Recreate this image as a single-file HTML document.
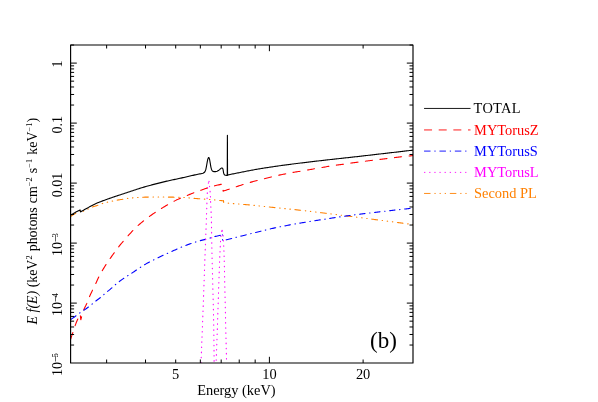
<!DOCTYPE html>
<html><head><meta charset="utf-8"><title>Spectrum (b)</title>
<style>
html,body{margin:0;padding:0;background:#fff;}
svg{display:block;will-change:transform;}
text{font-family:"Liberation Serif",serif;font-size:14.4px;fill:#000;}
</style></head><body>
<svg width="598" height="402" viewBox="0 0 598 402">
<rect width="598" height="402" fill="#fff"/>
<defs><clipPath id="c"><rect x="70.6" y="45.0" width="342.40" height="318.00"/></clipPath></defs>
<g clip-path="url(#c)" fill="none" stroke-linejoin="round" stroke-linecap="round">
<path d="M70.70 216.30L71.74 215.66L72.78 215.03L73.82 214.40L74.86 213.79L75.89 213.18L76.93 212.57L77.97 211.97L79.01 211.38L80.05 210.80L80.55 212.60L81.56 212.10L82.56 211.61L83.57 211.13L84.58 210.65L85.58 210.18L86.59 209.71L87.60 209.24L88.60 208.76L89.61 208.25L90.62 207.75L91.62 207.30L92.63 206.90L93.64 206.55L94.64 206.24L95.65 205.93L96.66 205.62L97.66 205.28L98.67 204.90L99.68 204.50L100.68 204.10L101.69 203.73L102.70 203.42L103.70 203.14L104.71 202.88L105.72 202.64L106.72 202.39L107.73 202.14L108.74 201.90L109.74 201.66L110.75 201.42L111.76 201.20L112.76 200.98L113.77 200.77L114.78 200.56L115.78 200.36L116.79 200.18L117.80 200.02L118.80 199.87L119.81 199.72L120.82 199.58L121.82 199.43L122.83 199.28L123.84 199.12L124.84 198.94L125.85 198.76L126.86 198.58L127.86 198.41L128.87 198.26L129.88 198.12L130.88 198.01L131.89 197.92L132.90 197.83L133.90 197.75L134.91 197.67L135.92 197.60L136.92 197.53L137.93 197.46L138.94 197.40L139.94 197.34L140.95 197.29L141.96 197.25L142.96 197.21L143.97 197.18L144.98 197.15L145.98 197.13L146.99 197.10L148.00 197.08L149.00 197.06L150.01 197.05L151.02 197.03L152.02 197.02L153.03 197.01L154.04 197.00L155.05 197.00L156.05 197.00L157.06 197.00L158.07 197.01L159.07 197.01L160.08 197.01L161.09 197.02L162.09 197.03L163.10 197.03L164.11 197.04L165.11 197.05L166.12 197.06L167.13 197.07L168.13 197.08L169.14 197.09L170.15 197.10L171.15 197.12L172.16 197.13L173.17 197.15L174.17 197.18L175.18 197.20L176.19 197.23L177.19 197.27L178.20 197.30L179.21 197.34L180.21 197.38L181.22 197.42L182.23 197.47L183.23 197.51L184.24 197.56L185.25 197.61L186.25 197.67L187.26 197.75L188.27 197.83L189.27 197.92L190.28 198.01L191.29 198.10L192.29 198.20L193.30 198.28L194.31 198.37L195.31 198.45L196.32 198.54L197.33 198.63L198.33 198.71L199.34 198.79L200.35 198.86L201.35 198.93L202.36 199.00L203.37 199.06L204.37 199.12L205.38 199.18L206.39 199.24L207.39 199.30L208.40 199.36L209.41 199.43L210.41 199.51L211.42 199.61L212.43 199.70L213.43 199.80L214.44 199.90L215.45 200.01L216.45 200.11L217.46 200.22L218.47 200.33L219.47 200.44L220.48 200.55L221.49 200.67L222.49 200.78L223.50 200.90" stroke="#ff8000" stroke-width="1.1" stroke-dasharray="5.67 4.63 0.50 4.63 0.50 4.63 0.50 4.63" stroke-dashoffset="25.44"/>
<path d="M223.50 200.90L223.70 202.60L224.70 202.73L225.71 202.85L226.71 202.97L227.71 203.08L228.72 203.19L229.72 203.29L230.73 203.38L231.73 203.48L232.73 203.57L233.74 203.65L234.74 203.73L235.74 203.81L236.75 203.89L237.75 203.96L238.76 204.04L239.76 204.12L240.76 204.20L241.77 204.28L242.77 204.37L243.77 204.45L244.78 204.53L245.78 204.61L246.79 204.69L247.79 204.78L248.79 204.86L249.80 204.96L250.80 205.05L251.80 205.15L252.81 205.25L253.81 205.35L254.81 205.46L255.82 205.57L256.82 205.68L257.83 205.79L258.83 205.90L259.83 206.01L260.84 206.12L261.84 206.23L262.84 206.34L263.85 206.45L264.85 206.55L265.86 206.66L266.86 206.76L267.86 206.87L268.87 206.97L269.87 207.07L270.87 207.18L271.88 207.28L272.88 207.38L273.89 207.48L274.89 207.58L275.89 207.69L276.90 207.79L277.90 207.89L278.90 207.99L279.91 208.09L280.91 208.19L281.91 208.29L282.92 208.40L283.92 208.50L284.93 208.60L285.93 208.70L286.93 208.81L287.94 208.91L288.94 209.01L289.94 209.12L290.95 209.22L291.95 209.33L292.96 209.43L293.96 209.54L294.96 209.65L295.97 209.76L296.97 209.87L297.97 209.98L298.98 210.09L299.98 210.20L300.99 210.31L301.99 210.42L302.99 210.54L304.00 210.65L305.00 210.77L306.00 210.88L307.01 211.00L308.01 211.12L309.01 211.24L310.02 211.35L311.02 211.47L312.03 211.59L313.03 211.71L314.03 211.83L315.04 211.95L316.04 212.08L317.04 212.20L318.05 212.32L319.05 212.44L320.06 212.57L321.06 212.69L322.06 212.81L323.07 212.94L324.07 213.06L325.07 213.19L326.08 213.31L327.08 213.44L328.09 213.56L329.09 213.69L330.09 213.81L331.10 213.94L332.10 214.07L333.10 214.19L334.11 214.32L335.11 214.45L336.11 214.57L337.12 214.70L338.12 214.83L339.13 214.95L340.13 215.08L341.13 215.21L342.14 215.34L343.14 215.46L344.14 215.59L345.15 215.72L346.15 215.84L347.16 215.97L348.16 216.09L349.16 216.22L350.17 216.35L351.17 216.48L352.17 216.60L353.18 216.73L354.18 216.86L355.19 216.99L356.19 217.11L357.19 217.24L358.20 217.37L359.20 217.50L360.20 217.63L361.21 217.76L362.21 217.89L363.21 218.02L364.22 218.15L365.22 218.28L366.23 218.41L367.23 218.54L368.23 218.67L369.24 218.80L370.24 218.93L371.24 219.06L372.25 219.19L373.25 219.32L374.26 219.45L375.26 219.58L376.26 219.71L377.27 219.84L378.27 219.97L379.27 220.11L380.28 220.24L381.28 220.37L382.29 220.50L383.29 220.63L384.29 220.76L385.30 220.89L386.30 221.02L387.30 221.15L388.31 221.29L389.31 221.42L390.31 221.55L391.32 221.68L392.32 221.81L393.33 221.94L394.33 222.08L395.33 222.21L396.34 222.34L397.34 222.47L398.34 222.60L399.35 222.74L400.35 222.87L401.36 223.00L402.36 223.13L403.36 223.27L404.37 223.40L405.37 223.53L406.37 223.67L407.38 223.80L408.38 223.93L409.39 224.07L410.39 224.20L411.39 224.33L412.40 224.47L413.40 224.60" stroke="#ff8000" stroke-width="1.1" stroke-dasharray="5.71 4.65 0.50 4.65 0.50 4.65 0.50 4.65" stroke-dashoffset="4.11"/>
<path d="M70.70 215.10L71.74 214.48L72.78 213.87L73.82 213.27L74.86 212.68L75.89 212.10L76.93 211.54L77.97 210.98L79.01 210.43L80.05 209.90L80.55 211.90L81.55 211.32L82.56 210.74L83.56 210.17L84.56 209.60L85.57 209.04L86.57 208.48L87.58 207.93L88.58 207.38L89.58 206.83L90.59 206.27L91.59 205.72L92.59 205.18L93.60 204.67L94.60 204.18L95.61 203.72L96.61 203.29L97.61 202.86L98.62 202.44L99.62 202.04L100.62 201.65L101.63 201.26L102.63 200.88L103.63 200.51L104.64 200.15L105.64 199.79L106.65 199.43L107.65 199.08L108.65 198.73L109.66 198.38L110.66 198.03L111.66 197.69L112.67 197.34L113.67 196.99L114.68 196.64L115.68 196.30L116.68 195.96L117.69 195.63L118.69 195.30L119.69 194.97L120.70 194.65L121.70 194.32L122.70 194.00L123.71 193.67L124.71 193.34L125.72 193.02L126.72 192.68L127.72 192.35L128.73 192.02L129.73 191.68L130.73 191.35L131.74 191.01L132.74 190.67L133.75 190.34L134.75 190.01L135.75 189.68L136.76 189.35L137.76 189.02L138.76 188.70L139.77 188.38L140.77 188.06L141.77 187.75L142.78 187.44L143.78 187.14L144.79 186.85L145.79 186.56L146.79 186.28L147.80 185.99L148.80 185.72L149.80 185.44L150.81 185.17L151.81 184.90L152.82 184.64L153.82 184.37L154.82 184.11L155.83 183.86L156.83 183.60L157.83 183.35L158.84 183.10L159.84 182.85L160.85 182.60L161.85 182.36L162.85 182.11L163.86 181.87L164.86 181.63L165.86 181.40L166.87 181.16L167.87 180.93L168.87 180.71L169.88 180.48L170.88 180.26L171.89 180.04L172.89 179.82L173.89 179.61L174.90 179.39L175.90 179.18L176.90 178.96L177.91 178.75L178.91 178.53L179.92 178.32L180.92 178.10L181.92 177.88L182.93 177.66L183.93 177.44L184.93 177.21L185.94 176.99L186.94 176.75L187.94 176.52L188.95 176.28L189.95 176.05L190.96 175.81L191.96 175.58L192.96 175.35L193.97 175.12L194.97 174.91L195.97 174.69L196.98 174.48L197.98 174.28L198.99 174.08L199.99 173.88L200.99 173.68L202.00 173.49L203.00 173.30L204.20 172.60L205.00 171.60L205.80 169.60L206.50 166.10L207.20 162.20L207.80 159.20L208.30 157.90L208.70 157.50L209.10 157.90L209.60 159.50L210.20 162.80L210.90 167.10L211.50 169.40L212.10 170.60L212.80 171.30L213.60 171.60L215.50 171.60L217.10 171.30L218.40 170.60L219.60 169.60L220.60 168.60L221.60 168.00L222.30 168.00L222.90 168.80L223.20 170.40L223.60 172.80L224.00 174.20L224.60 174.90L225.60 175.30L226.60 175.40L227.25 175.40L227.40 135.20L227.55 175.20L228.10 174.90L229.10 174.69L230.10 174.49L231.10 174.29L232.11 174.08L233.11 173.88L234.11 173.68L235.11 173.47L236.11 173.27L237.11 173.07L238.12 172.87L239.12 172.67L240.12 172.48L241.12 172.28L242.12 172.08L243.12 171.88L244.13 171.68L245.13 171.48L246.13 171.28L247.13 171.08L248.13 170.88L249.13 170.69L250.14 170.49L251.14 170.30L252.14 170.12L253.14 169.93L254.14 169.75L255.14 169.57L256.15 169.40L257.15 169.23L258.15 169.06L259.15 168.89L260.15 168.72L261.15 168.56L262.16 168.40L263.16 168.23L264.16 168.07L265.16 167.91L266.16 167.76L267.16 167.60L268.16 167.44L269.17 167.29L270.17 167.14L271.17 166.99L272.17 166.84L273.17 166.69L274.17 166.54L275.18 166.39L276.18 166.25L277.18 166.10L278.18 165.96L279.18 165.82L280.18 165.67L281.19 165.53L282.19 165.39L283.19 165.26L284.19 165.12L285.19 164.99L286.19 164.85L287.20 164.72L288.20 164.59L289.20 164.46L290.20 164.33L291.20 164.20L292.20 164.07L293.21 163.95L294.21 163.82L295.21 163.69L296.21 163.57L297.21 163.45L298.21 163.32L299.22 163.20L300.22 163.07L301.22 162.95L302.22 162.83L303.22 162.71L304.22 162.58L305.22 162.46L306.23 162.34L307.23 162.22L308.23 162.11L309.23 161.99L310.23 161.87L311.23 161.75L312.24 161.63L313.24 161.52L314.24 161.40L315.24 161.29L316.24 161.17L317.24 161.05L318.25 160.94L319.25 160.82L320.25 160.71L321.25 160.59L322.25 160.48L323.25 160.37L324.26 160.25L325.26 160.14L326.26 160.02L327.26 159.91L328.26 159.80L329.26 159.68L330.27 159.57L331.27 159.46L332.27 159.34L333.27 159.23L334.27 159.12L335.27 159.01L336.28 158.90L337.28 158.79L338.28 158.68L339.28 158.57L340.28 158.46L341.28 158.35L342.28 158.24L343.29 158.13L344.29 158.02L345.29 157.91L346.29 157.80L347.29 157.69L348.29 157.58L349.30 157.47L350.30 157.36L351.30 157.25L352.30 157.14L353.30 157.02L354.30 156.91L355.31 156.80L356.31 156.69L357.31 156.58L358.31 156.46L359.31 156.35L360.31 156.24L361.32 156.12L362.32 156.01L363.32 155.89L364.32 155.78L365.32 155.66L366.32 155.55L367.33 155.44L368.33 155.32L369.33 155.21L370.33 155.09L371.33 154.98L372.33 154.86L373.34 154.75L374.34 154.63L375.34 154.51L376.34 154.40L377.34 154.28L378.34 154.17L379.34 154.05L380.35 153.94L381.35 153.82L382.35 153.71L383.35 153.59L384.35 153.47L385.35 153.36L386.36 153.24L387.36 153.13L388.36 153.01L389.36 152.90L390.36 152.78L391.36 152.66L392.37 152.55L393.37 152.43L394.37 152.32L395.37 152.20L396.37 152.08L397.37 151.97L398.38 151.85L399.38 151.74L400.38 151.62L401.38 151.50L402.38 151.39L403.38 151.27L404.39 151.15L405.39 151.04L406.39 150.92L407.39 150.80L408.39 150.69L409.39 150.57L410.40 150.45L411.40 150.33L412.40 150.22L413.40 150.10" stroke="#000" stroke-width="1.1"/>
<path d="M70.70 339.20L71.00 338.19L71.31 337.18L71.62 336.18L71.95 335.17L72.28 334.16L72.64 333.15L73.01 332.14L73.37 331.14L73.72 330.13L74.06 329.12L74.36 328.11L74.65 327.10L74.97 326.10L75.32 325.09L75.70 324.08L76.09 323.07L76.50 322.06L76.93 321.06L77.36 320.05L77.81 319.04L78.25 318.03L78.72 317.02L79.20 316.02L79.69 315.01L80.20 314.00L80.80 319.80L81.80 316.04L82.80 312.70L83.80 309.82L84.80 307.50L85.80 305.56L86.80 303.43L87.80 300.90L88.80 298.32L89.80 295.99L90.80 293.79L91.80 291.67L92.80 289.59L93.80 287.59L94.80 285.61L95.80 283.51L96.80 281.30L97.80 279.09L98.80 276.99L99.80 275.07L100.80 273.23L101.80 271.46L102.80 269.76L103.80 268.10L104.80 266.48L105.80 264.90L106.80 263.37L107.80 261.87L108.80 260.42L109.80 258.98L110.80 257.57L111.80 256.15L112.80 254.75L113.80 253.36L114.80 251.99L115.80 250.64L116.80 249.30L117.80 247.99L118.80 246.71L119.80 245.45L120.80 244.21L121.80 242.99L122.80 241.78L123.80 240.60L124.80 239.43L125.80 238.28L126.80 237.15L127.80 236.04L128.80 234.94L129.80 233.86L130.80 232.78L131.80 231.71L132.80 230.66L133.80 229.63L134.80 228.62L135.80 227.63L136.80 226.68L137.80 225.76L138.80 224.87L139.80 224.00L140.80 223.15L141.80 222.31L142.80 221.50L143.80 220.69L144.80 219.90L145.80 219.13L146.80 218.37L147.80 217.62L148.80 216.88L149.80 216.16L150.80 215.44L151.80 214.74L152.80 214.04L153.80 213.36L154.80 212.68L155.80 212.02L156.80 211.36L157.80 210.71L158.80 210.07L159.80 209.44L160.80 208.82L161.80 208.21L162.80 207.60L163.80 207.01L164.80 206.42L165.80 205.84L166.80 205.26L167.80 204.69L168.80 204.13L169.80 203.58L170.80 203.03L171.80 202.48L172.80 201.94L173.80 201.41L174.80 200.88L175.80 200.37L176.80 199.86L177.80 199.37L178.80 198.89L179.80 198.42L180.80 197.96L181.80 197.53L182.80 197.12L183.80 196.73L184.80 196.34L185.80 195.97L186.80 195.58L187.80 195.18L188.80 194.77L189.80 194.37L190.80 193.96L191.80 193.56L192.80 193.18L193.80 192.80L194.80 192.44L195.80 192.08L196.80 191.73L197.80 191.38L198.80 191.03L199.80 190.67L200.80 190.31L201.80 189.94L202.80 189.57L203.80 189.20L204.80 188.83L205.80 188.47L206.80 188.13L207.80 187.80L208.80 187.48L209.80 187.18L210.80 186.89L211.80 186.61L212.80 186.34L213.80 186.08L214.80 185.82L215.80 185.57L216.80 185.33L217.80 185.09L218.80 184.86L219.80 184.63L220.80 184.41L221.80 184.20L222.80 184.00" stroke="#ff0000" stroke-width="1.1" stroke-dasharray="7.11 7.35" stroke-dashoffset="0.16"/>
<path d="M222.80 184.00L223.10 191.10L224.10 190.79L225.10 190.47L226.10 190.15L227.11 189.82L228.11 189.50L229.11 189.17L230.11 188.83L231.11 188.49L232.11 188.14L233.12 187.80L234.12 187.46L235.12 187.13L236.12 186.79L237.12 186.46L238.12 186.13L239.13 185.80L240.13 185.48L241.13 185.16L242.13 184.84L243.13 184.52L244.13 184.21L245.13 183.90L246.14 183.60L247.14 183.30L248.14 183.01L249.14 182.72L250.14 182.43L251.14 182.15L252.15 181.87L253.15 181.59L254.15 181.32L255.15 181.05L256.15 180.78L257.15 180.51L258.16 180.25L259.16 179.99L260.16 179.74L261.16 179.49L262.16 179.24L263.16 178.99L264.16 178.73L265.17 178.48L266.17 178.23L267.17 177.97L268.17 177.72L269.17 177.47L270.17 177.22L271.18 176.97L272.18 176.73L273.18 176.49L274.18 176.25L275.18 176.01L276.18 175.77L277.19 175.55L278.19 175.32L279.19 175.11L280.19 174.90L281.19 174.70L282.19 174.50L283.19 174.31L284.20 174.11L285.20 173.92L286.20 173.72L287.20 173.52L288.20 173.32L289.20 173.11L290.21 172.91L291.21 172.72L292.21 172.53L293.21 172.36L294.21 172.20L295.21 172.04L296.22 171.89L297.22 171.74L298.22 171.58L299.22 171.43L300.22 171.26L301.22 171.10L302.22 170.93L303.23 170.75L304.23 170.58L305.23 170.41L306.23 170.23L307.23 170.06L308.23 169.89L309.24 169.71L310.24 169.53L311.24 169.36L312.24 169.18L313.24 169.00L314.24 168.83L315.25 168.66L316.25 168.49L317.25 168.32L318.25 168.15L319.25 167.98L320.25 167.81L321.25 167.64L322.26 167.47L323.26 167.30L324.26 167.12L325.26 166.94L326.26 166.76L327.26 166.58L328.27 166.41L329.27 166.24L330.27 166.07L331.27 165.91L332.27 165.76L333.27 165.61L334.28 165.46L335.28 165.32L336.28 165.17L337.28 165.03L338.28 164.89L339.28 164.76L340.28 164.62L341.29 164.49L342.29 164.35L343.29 164.21L344.29 164.07L345.29 163.93L346.29 163.78L347.30 163.63L348.30 163.48L349.30 163.33L350.30 163.19L351.30 163.04L352.30 162.90L353.31 162.76L354.31 162.63L355.31 162.49L356.31 162.35L357.31 162.22L358.31 162.08L359.31 161.95L360.32 161.82L361.32 161.69L362.32 161.57L363.32 161.44L364.32 161.31L365.32 161.18L366.33 161.06L367.33 160.93L368.33 160.80L369.33 160.68L370.33 160.55L371.33 160.43L372.34 160.30L373.34 160.18L374.34 160.07L375.34 159.95L376.34 159.84L377.34 159.73L378.34 159.61L379.35 159.49L380.35 159.37L381.35 159.25L382.35 159.12L383.35 158.99L384.35 158.87L385.36 158.74L386.36 158.62L387.36 158.49L388.36 158.37L389.36 158.26L390.36 158.14L391.37 158.03L392.37 157.91L393.37 157.79L394.37 157.67L395.37 157.54L396.37 157.41L397.37 157.28L398.38 157.15L399.38 157.03L400.38 156.90L401.38 156.79L402.38 156.69L403.38 156.59L404.39 156.49L405.39 156.40L406.39 156.30L407.39 156.21L408.39 156.10L409.39 155.99L410.40 155.87L411.40 155.75L412.40 155.63L413.40 155.50" stroke="#ff0000" stroke-width="1.1" stroke-dasharray="7.20 7.45" stroke-dashoffset="8.34"/>
<path d="M70.70 319.60L71.70 318.89L72.71 318.17L73.71 317.44L74.72 316.71L75.72 315.96L76.73 315.19L77.73 314.43L78.74 313.69L79.74 312.99L80.75 312.34L81.75 311.69L82.76 311.03L83.76 310.35L84.76 309.64L85.77 308.93L86.77 308.20L87.78 307.47L88.78 306.73L89.79 305.98L90.79 305.20L91.80 304.39L92.80 303.50L93.81 302.60L94.81 301.73L95.82 300.95L96.82 300.22L97.83 299.51L98.83 298.79L99.83 298.01L100.84 297.19L101.84 296.33L102.85 295.45L103.85 294.53L104.86 293.61L105.86 292.76L106.87 291.96L107.87 291.18L108.88 290.38L109.88 289.55L110.89 288.69L111.89 287.82L112.89 286.93L113.90 286.04L114.90 285.15L115.91 284.28L116.91 283.43L117.92 282.60L118.92 281.81L119.93 281.06L120.93 280.32L121.94 279.61L122.94 278.91L123.95 278.23L124.95 277.56L125.95 276.90L126.96 276.24L127.96 275.59L128.97 274.95L129.97 274.30L130.98 273.65L131.98 273.00L132.99 272.34L133.99 271.67L135.00 271.00L136.00 270.32L137.01 269.64L138.01 268.96L139.02 268.28L140.02 267.61L141.02 266.95L142.03 266.30L143.03 265.66L144.04 265.05L145.04 264.45L146.05 263.87L147.05 263.31L148.06 262.76L149.06 262.22L150.07 261.68L151.07 261.16L152.08 260.65L153.08 260.14L154.08 259.64L155.09 259.14L156.09 258.65L157.10 258.16L158.10 257.68L159.11 257.19L160.11 256.71L161.12 256.23L162.12 255.76L163.13 255.30L164.13 254.83L165.14 254.38L166.14 253.92L167.15 253.47L168.15 253.02L169.15 252.58L170.16 252.13L171.16 251.69L172.17 251.24L173.17 250.80L174.18 250.36L175.18 249.91L176.19 249.45L177.19 249.00L178.20 248.55L179.20 248.11L180.21 247.67L181.21 247.24L182.21 246.81L183.22 246.40L184.22 246.00L185.23 245.61L186.23 245.24L187.24 244.87L188.24 244.50L189.25 244.14L190.25 243.79L191.26 243.44L192.26 243.10L193.27 242.77L194.27 242.44L195.27 242.12L196.28 241.81L197.28 241.50L198.29 241.21L199.29 240.92L200.30 240.64L201.30 240.39L202.31 240.14L203.31 239.89L204.32 239.64L205.32 239.38L206.33 239.10L207.33 238.82L208.34 238.53L209.34 238.24L210.34 237.93L211.35 237.59L212.35 237.24L213.36 236.91L214.36 236.63L215.37 236.39L216.37 236.17L217.38 235.96L218.38 235.76L219.39 235.56L220.39 235.35L221.40 235.12L222.40 234.90" stroke="#0000ff" stroke-width="1.1" stroke-dasharray="5.63 4.54 0.49 4.54" stroke-dashoffset="14.27"/>
<path d="M222.40 234.90L222.60 240.70L223.60 240.46L224.61 240.22L225.61 239.97L226.62 239.73L227.62 239.48L228.63 239.23L229.63 238.97L230.63 238.72L231.64 238.46L232.64 238.20L233.65 237.93L234.65 237.67L235.65 237.41L236.66 237.16L237.66 236.92L238.67 236.67L239.67 236.43L240.68 236.18L241.68 235.93L242.68 235.68L243.69 235.43L244.69 235.18L245.70 234.93L246.70 234.68L247.71 234.43L248.71 234.18L249.71 233.93L250.72 233.68L251.72 233.43L252.73 233.18L253.73 232.93L254.73 232.68L255.74 232.44L256.74 232.19L257.75 231.95L258.75 231.70L259.76 231.46L260.76 231.22L261.76 230.97L262.77 230.73L263.77 230.48L264.78 230.24L265.78 230.00L266.79 229.75L267.79 229.51L268.79 229.27L269.80 229.04L270.80 228.80L271.81 228.57L272.81 228.34L273.81 228.12L274.82 227.90L275.82 227.69L276.83 227.48L277.83 227.27L278.84 227.06L279.84 226.86L280.84 226.66L281.85 226.45L282.85 226.26L283.86 226.06L284.86 225.86L285.87 225.67L286.87 225.48L287.87 225.29L288.88 225.10L289.88 224.91L290.89 224.73L291.89 224.54L292.89 224.36L293.90 224.18L294.90 224.00L295.91 223.82L296.91 223.64L297.92 223.46L298.92 223.29L299.92 223.11L300.93 222.94L301.93 222.77L302.94 222.60L303.94 222.43L304.95 222.27L305.95 222.10L306.95 221.94L307.96 221.78L308.96 221.62L309.97 221.46L310.97 221.30L311.97 221.15L312.98 220.99L313.98 220.83L314.99 220.68L315.99 220.52L317.00 220.37L318.00 220.21L319.00 220.06L320.01 219.91L321.01 219.75L322.02 219.60L323.02 219.44L324.03 219.29L325.03 219.13L326.03 218.98L327.04 218.82L328.04 218.67L329.05 218.51L330.05 218.36L331.05 218.20L332.06 218.05L333.06 217.90L334.07 217.74L335.07 217.59L336.08 217.44L337.08 217.29L338.08 217.14L339.09 216.99L340.09 216.84L341.10 216.70L342.10 216.55L343.11 216.41L344.11 216.27L345.11 216.12L346.12 215.98L347.12 215.85L348.13 215.71L349.13 215.57L350.13 215.44L351.14 215.31L352.14 215.18L353.15 215.05L354.15 214.92L355.16 214.79L356.16 214.66L357.16 214.53L358.17 214.41L359.17 214.28L360.18 214.16L361.18 214.03L362.19 213.91L363.19 213.79L364.19 213.67L365.20 213.54L366.20 213.42L367.21 213.30L368.21 213.18L369.21 213.06L370.22 212.95L371.22 212.83L372.23 212.71L373.23 212.59L374.24 212.47L375.24 212.36L376.24 212.24L377.25 212.12L378.25 212.00L379.26 211.89L380.26 211.77L381.27 211.65L382.27 211.54L383.27 211.42L384.28 211.30L385.28 211.19L386.29 211.07L387.29 210.96L388.29 210.85L389.30 210.73L390.30 210.62L391.31 210.50L392.31 210.39L393.32 210.28L394.32 210.17L395.32 210.05L396.33 209.94L397.33 209.83L398.34 209.72L399.34 209.61L400.35 209.50L401.35 209.39L402.35 209.28L403.36 209.17L404.36 209.06L405.37 208.95L406.37 208.85L407.37 208.74L408.38 208.63L409.38 208.52L410.39 208.42L411.39 208.31L412.40 208.21L413.40 208.10" stroke="#0000ff" stroke-width="1.1" stroke-dasharray="5.59 4.51 0.49 4.51" stroke-dashoffset="5.57"/>
<path d="M201.00 363.00L201.04 362.00L201.08 360.99L201.12 359.99L201.16 358.98L201.20 357.98L201.24 356.98L201.28 355.97L201.32 354.97L201.36 353.97L201.40 352.96L201.44 351.96L201.48 350.95L201.52 349.95L201.56 348.95L201.60 347.94L201.64 346.94L201.68 345.93L201.72 344.93L201.76 343.93L201.80 342.92L201.84 341.92L201.88 340.91L201.92 339.91L201.96 338.91L201.99 337.90L202.03 336.90L202.07 335.89L202.11 334.89L202.15 333.89L202.19 332.88L202.23 331.88L202.27 330.88L202.30 329.87L202.34 328.87L202.38 327.86L202.42 326.86L202.46 325.86L202.50 324.85L202.54 323.85L202.57 322.84L202.61 321.84L202.65 320.84L202.69 319.83L202.73 318.83L202.77 317.83L202.80 316.82L202.84 315.82L202.88 314.81L202.92 313.81L202.95 312.81L202.99 311.80L203.03 310.80L203.07 309.79L203.11 308.79L203.14 307.79L203.18 306.78L203.22 305.78L203.26 304.77L203.29 303.77L203.33 302.77L203.37 301.76L203.41 300.76L203.44 299.75L203.48 298.75L203.52 297.75L203.55 296.74L203.59 295.74L203.63 294.74L203.66 293.73L203.70 292.73L203.74 291.72L203.77 290.72L203.81 289.72L203.85 288.71L203.88 287.71L203.92 286.70L203.95 285.70L203.99 284.70L204.03 283.69L204.06 282.69L204.10 281.69L204.13 280.68L204.17 279.68L204.20 278.67L204.24 277.67L204.27 276.67L204.31 275.66L204.34 274.66L204.38 273.65L204.41 272.65L204.45 271.65L204.48 270.64L204.52 269.64L204.55 268.63L204.59 267.63L204.62 266.63L204.66 265.62L204.69 264.62L204.73 263.62L204.76 262.61L204.80 261.61L204.83 260.60L204.87 259.60L204.91 258.60L204.94 257.59L204.98 256.59L205.01 255.58L205.05 254.58L205.09 253.58L205.12 252.57L205.16 251.57L205.20 250.56L205.24 249.56L205.28 248.56L205.31 247.55L205.35 246.55L205.39 245.55L205.43 244.54L205.47 243.54L205.51 242.53L205.55 241.53L205.58 240.53L205.62 239.52L205.66 238.52L205.70 237.51L205.74 236.51L205.78 235.51L205.82 234.50L205.86 233.50L205.89 232.49L205.93 231.49L205.97 230.49L206.01 229.48L206.05 228.48L206.09 227.48L206.12 226.47L206.16 225.47L206.20 224.46L206.23 223.46L206.27 222.46L206.31 221.45L206.34 220.45L206.38 219.44L206.41 218.44L206.45 217.44L206.48 216.43L206.51 215.43L206.55 214.42L206.58 213.42L206.61 212.42L206.64 211.41L206.67 210.41L206.71 209.41L206.74 208.40L206.77 207.40L206.80 206.39L206.84 205.39L206.87 204.39L206.91 203.38L206.94 202.38L206.98 201.37L207.01 200.37L207.05 199.37L207.08 198.36L207.12 197.36L207.16 196.35L207.20 195.35L207.24 194.35L207.29 193.34L207.34 192.34L207.38 191.34L207.44 190.33L207.50 189.33L207.57 188.32L207.67 187.32L207.79 186.32L207.94 185.31L208.12 184.31L208.34 183.30L208.60 182.30L209.00 181.30" stroke="#ff00ff" stroke-width="1.1" stroke-dasharray="0.50 4.64" stroke-dashoffset="5.02"/>
<path d="M209.00 181.30L209.30 182.60L209.60 186.80L209.72 187.80L209.84 188.80L209.94 189.80L210.03 190.80L210.12 191.81L210.19 192.81L210.25 193.81L210.31 194.81L210.36 195.81L210.41 196.81L210.45 197.81L210.49 198.81L210.53 199.81L210.57 200.82L210.61 201.82L210.65 202.82L210.70 203.82L210.74 204.82L210.79 205.82L210.84 206.82L210.88 207.82L210.93 208.83L210.98 209.83L211.03 210.83L211.08 211.83L211.12 212.83L211.17 213.83L211.21 214.83L211.25 215.83L211.28 216.83L211.31 217.84L211.34 218.84L211.36 219.84L211.38 220.84L211.41 221.84L211.43 222.84L211.45 223.84L211.47 224.84L211.49 225.84L211.51 226.85L211.53 227.85L211.54 228.85L211.56 229.85L211.58 230.85L211.59 231.85L211.61 232.85L211.63 233.85L211.64 234.85L211.66 235.86L211.67 236.86L211.69 237.86L211.70 238.86L211.72 239.86L211.73 240.86L211.75 241.86L211.77 242.86L211.78 243.86L211.80 244.87L211.82 245.87L211.84 246.87L211.86 247.87L211.88 248.87L211.90 249.87L211.92 250.87L211.94 251.87L211.96 252.88L211.99 253.88L212.01 254.88L212.03 255.88L212.06 256.88L212.08 257.88L212.10 258.88L212.13 259.88L212.15 260.88L212.18 261.89L212.20 262.89L212.23 263.89L212.25 264.89L212.28 265.89L212.31 266.89L212.33 267.89L212.36 268.89L212.38 269.89L212.41 270.90L212.44 271.90L212.46 272.90L212.49 273.90L212.52 274.90L212.54 275.90L212.57 276.90L212.60 277.90L212.62 278.90L212.65 279.91L212.67 280.91L212.70 281.91L212.73 282.91L212.75 283.91L212.78 284.91L212.80 285.91L212.83 286.91L212.85 287.91L212.87 288.92L212.90 289.92L212.92 290.92L212.95 291.92L212.97 292.92L213.00 293.92L213.02 294.92L213.05 295.92L213.07 296.93L213.10 297.93L213.12 298.93L213.15 299.93L213.17 300.93L213.20 301.93L213.23 302.93L213.25 303.93L213.28 304.93L213.30 305.94L213.33 306.94L213.35 307.94L213.38 308.94L213.40 309.94L213.43 310.94L213.45 311.94L213.48 312.94L213.50 313.94L213.52 314.95L213.55 315.95L213.57 316.95L213.59 317.95L213.61 318.95L213.63 319.95L213.65 320.95L213.67 321.95L213.69 322.95L213.71 323.96L213.72 324.96L213.74 325.96L213.76 326.96L213.77 327.96L213.79 328.96L213.80 329.96L213.81 330.96L213.82 331.96L213.84 332.97L213.85 333.97L213.86 334.97L213.87 335.97L213.89 336.97L213.90 337.97L213.91 338.97L213.92 339.97L213.93 340.98L213.94 341.98L213.95 342.98L213.96 343.98L213.98 344.98L213.99 345.98L213.99 346.98L214.00 347.98L214.01 348.98L214.02 349.99L214.03 350.99L214.04 351.99L214.05 352.99L214.05 353.99L214.06 354.99L214.07 355.99L214.07 356.99L214.08 357.99L214.08 359.00L214.09 360.00L214.09 361.00L214.10 362.00L214.10 363.00" stroke="#ff00ff" stroke-width="1.1" stroke-dasharray="0.50 4.63" stroke-dashoffset="0.08"/>
<path d="M216.10 363.00L216.14 362.00L216.18 360.99L216.21 359.99L216.25 358.98L216.29 357.98L216.33 356.97L216.37 355.97L216.40 354.96L216.44 353.96L216.48 352.95L216.52 351.95L216.55 350.94L216.59 349.94L216.63 348.94L216.66 347.93L216.70 346.93L216.74 345.92L216.77 344.92L216.81 343.91L216.85 342.91L216.88 341.90L216.92 340.90L216.95 339.89L216.99 338.89L217.02 337.88L217.06 336.88L217.10 335.88L217.13 334.87L217.17 333.87L217.20 332.86L217.24 331.86L217.27 330.85L217.31 329.85L217.34 328.84L217.37 327.84L217.41 326.83L217.44 325.83L217.47 324.82L217.51 323.82L217.54 322.82L217.57 321.81L217.61 320.81L217.64 319.80L217.67 318.80L217.70 317.79L217.73 316.79L217.77 315.78L217.80 314.78L217.83 313.77L217.86 312.77L217.89 311.76L217.92 310.76L217.96 309.76L217.99 308.75L218.02 307.75L218.05 306.74L218.08 305.74L218.11 304.73L218.15 303.73L218.18 302.72L218.21 301.72L218.24 300.71L218.27 299.71L218.31 298.70L218.34 297.70L218.37 296.70L218.41 295.69L218.44 294.69L218.47 293.68L218.51 292.68L218.54 291.67L218.58 290.67L218.61 289.66L218.65 288.66L218.68 287.65L218.72 286.65L218.75 285.64L218.78 284.64L218.82 283.64L218.85 282.63L218.89 281.63L218.92 280.62L218.96 279.62L218.99 278.61L219.02 277.61L219.06 276.60L219.09 275.60L219.13 274.59L219.16 273.59L219.20 272.58L219.23 271.58L219.27 270.58L219.30 269.57L219.34 268.57L219.38 267.56L219.41 266.56L219.45 265.55L219.49 264.55L219.53 263.54L219.57 262.54L219.61 261.53L219.65 260.53L219.69 259.52L219.73 258.52L219.77 257.52L219.81 256.51L219.85 255.51L219.90 254.50L219.94 253.50L219.99 252.49L220.03 251.49L220.08 250.48L220.12 249.48L220.17 248.47L220.21 247.47L220.26 246.46L220.30 245.46L220.35 244.46L220.40 243.45L220.45 242.45L220.51 241.44L220.57 240.44L220.63 239.43L220.70 238.43L220.78 237.42L220.87 236.42L220.98 235.41L221.13 234.41L221.31 233.40L221.50 232.40L222.10 230.30" stroke="#ff00ff" stroke-width="1.1" stroke-dasharray="0.50 4.66" stroke-dashoffset="2.46"/>
<path d="M222.10 230.30L222.60 232.20L223.10 235.80L223.16 236.80L223.23 237.80L223.29 238.80L223.36 239.81L223.42 240.81L223.48 241.81L223.54 242.81L223.60 243.81L223.66 244.81L223.71 245.82L223.76 246.82L223.81 247.82L223.85 248.82L223.89 249.82L223.93 250.82L223.97 251.83L224.00 252.83L224.03 253.83L224.07 254.83L224.10 255.83L224.13 256.83L224.16 257.83L224.19 258.84L224.21 259.84L224.24 260.84L224.27 261.84L224.30 262.84L224.32 263.84L224.35 264.85L224.37 265.85L224.39 266.85L224.42 267.85L224.44 268.85L224.46 269.85L224.49 270.86L224.51 271.86L224.53 272.86L224.55 273.86L224.57 274.86L224.59 275.86L224.61 276.86L224.63 277.87L224.66 278.87L224.68 279.87L224.70 280.87L224.72 281.87L224.74 282.87L224.76 283.88L224.78 284.88L224.81 285.88L224.83 286.88L224.85 287.88L224.87 288.88L224.90 289.89L224.92 290.89L224.94 291.89L224.97 292.89L224.99 293.89L225.01 294.89L225.04 295.89L225.06 296.90L225.08 297.90L225.11 298.90L225.13 299.90L225.15 300.90L225.17 301.90L225.19 302.91L225.22 303.91L225.24 304.91L225.26 305.91L225.28 306.91L225.31 307.91L225.33 308.91L225.35 309.92L225.37 310.92L225.39 311.92L225.42 312.92L225.44 313.92L225.46 314.92L225.48 315.93L225.50 316.93L225.53 317.93L225.55 318.93L225.57 319.93L225.59 320.93L225.62 321.94L225.64 322.94L225.66 323.94L225.68 324.94L225.71 325.94L225.73 326.94L225.75 327.94L225.78 328.95L225.80 329.95L225.82 330.95L225.85 331.95L225.87 332.95L225.89 333.95L225.92 334.96L225.94 335.96L225.96 336.96L225.99 337.96L226.01 338.96L226.04 339.96L226.06 340.97L226.08 341.97L226.11 342.97L226.13 343.97L226.16 344.97L226.18 345.97L226.20 346.97L226.23 347.98L226.25 348.98L226.28 349.98L226.30 350.98L226.33 351.98L226.35 352.98L226.38 353.99L226.40 354.99L226.43 355.99L226.45 356.99L226.48 357.99L226.50 358.99L226.52 360.00L226.55 361.00L226.57 362.00L226.60 363.00" stroke="#ff00ff" stroke-width="1.1" stroke-dasharray="0.50 4.63" stroke-dashoffset="5.02"/>
</g>
<path d="M70.60 345.04h3.5M413.00 345.04h-3.5M70.60 334.47h3.5M413.00 334.47h-3.5M70.60 326.98h3.5M413.00 326.98h-3.5M70.60 321.16h3.5M413.00 321.16h-3.5M70.60 316.41h3.5M413.00 316.41h-3.5M70.60 312.39h3.5M413.00 312.39h-3.5M70.60 308.91h3.5M413.00 308.91h-3.5M70.60 305.85h3.5M413.00 305.85h-3.5M70.60 303.10h6.2M413.00 303.10h-6.2M70.60 285.04h3.5M413.00 285.04h-3.5M70.60 274.47h3.5M413.00 274.47h-3.5M70.60 266.98h3.5M413.00 266.98h-3.5M70.60 261.16h3.5M413.00 261.16h-3.5M70.60 256.41h3.5M413.00 256.41h-3.5M70.60 252.39h3.5M413.00 252.39h-3.5M70.60 248.91h3.5M413.00 248.91h-3.5M70.60 245.85h3.5M413.00 245.85h-3.5M70.60 243.10h6.2M413.00 243.10h-6.2M70.60 225.04h3.5M413.00 225.04h-3.5M70.60 214.47h3.5M413.00 214.47h-3.5M70.60 206.98h3.5M413.00 206.98h-3.5M70.60 201.16h3.5M413.00 201.16h-3.5M70.60 196.41h3.5M413.00 196.41h-3.5M70.60 192.39h3.5M413.00 192.39h-3.5M70.60 188.91h3.5M413.00 188.91h-3.5M70.60 185.85h3.5M413.00 185.85h-3.5M70.60 183.10h6.2M413.00 183.10h-6.2M70.60 165.04h3.5M413.00 165.04h-3.5M70.60 154.47h3.5M413.00 154.47h-3.5M70.60 146.98h3.5M413.00 146.98h-3.5M70.60 141.16h3.5M413.00 141.16h-3.5M70.60 136.41h3.5M413.00 136.41h-3.5M70.60 132.39h3.5M413.00 132.39h-3.5M70.60 128.91h3.5M413.00 128.91h-3.5M70.60 125.85h3.5M413.00 125.85h-3.5M70.60 123.10h6.2M413.00 123.10h-6.2M70.60 105.04h3.5M413.00 105.04h-3.5M70.60 94.47h3.5M413.00 94.47h-3.5M70.60 86.98h3.5M413.00 86.98h-3.5M70.60 81.16h3.5M413.00 81.16h-3.5M70.60 76.41h3.5M413.00 76.41h-3.5M70.60 72.39h3.5M413.00 72.39h-3.5M70.60 68.91h3.5M413.00 68.91h-3.5M70.60 65.85h3.5M413.00 65.85h-3.5M70.60 63.10h6.2M413.00 63.10h-6.2M70.60 45.04h3.5M413.00 45.04h-3.5M106.63 363.00v-3.5M106.63 45.00v3.5M145.52 363.00v-3.5M145.52 45.00v3.5M175.69 363.00v-3.5M175.69 45.00v3.5M200.34 363.00v-3.5M200.34 45.00v3.5M221.18 363.00v-3.5M221.18 45.00v3.5M239.23 363.00v-3.5M239.23 45.00v3.5M255.16 363.00v-3.5M255.16 45.00v3.5M269.40 363.00v-6.2M269.40 45.00v6.2M363.11 363.00v-3.5M363.11 45.00v3.5" stroke="#000" stroke-width="1" fill="none"/>
<rect x="70.6" y="45.0" width="342.40" height="318.00" fill="none" stroke="#000" stroke-width="1.15" stroke-linejoin="round"/>
<text x="175.69" y="378.8" text-anchor="middle">5</text>
<text x="269.40" y="378.8" text-anchor="middle">10</text>
<text x="363.11" y="378.8" text-anchor="middle">20</text>
<text x="236.4" y="394.9" text-anchor="middle">Energy (keV)</text>
<text transform="translate(62.1 63.90) rotate(-90)" text-anchor="middle" style="font-size:14.0px">1</text>
<text transform="translate(62.1 124.70) rotate(-90)" text-anchor="middle" style="font-size:14.0px">0.1</text>
<text transform="translate(62.1 184.90) rotate(-90)" text-anchor="middle" style="font-size:14.0px">0.01</text>
<text transform="translate(62.1 244.60) rotate(-90)" text-anchor="middle" style="font-size:14.0px">10<tspan dy="-1.7" dx="-0.3" style="font-size:12.5px">−</tspan><tspan dy="-2.25" dx="-2.3" style="font-size:8.6px">3</tspan></text>
<text transform="translate(62.1 304.60) rotate(-90)" text-anchor="middle" style="font-size:14.0px">10<tspan dy="-1.7" dx="-0.3" style="font-size:12.5px">−</tspan><tspan dy="-2.25" dx="-2.3" style="font-size:8.6px">4</tspan></text>
<text transform="translate(62.1 364.60) rotate(-90)" text-anchor="middle" style="font-size:14.0px">10<tspan dy="-1.7" dx="-0.3" style="font-size:12.5px">−</tspan><tspan dy="-2.25" dx="-2.3" style="font-size:8.6px">5</tspan></text>
<text transform="translate(36.6 324.4) rotate(-90)" style="font-size:13.9px"><tspan font-style="italic">E f(E)</tspan> (keV<tspan dy="-5" style="font-size:8.4px">2</tspan><tspan dy="5" style="font-size:13.9px">​</tspan><tspan style="word-spacing:0.65px"> photons cm<tspan dy="-5" style="font-size:8.4px">−2</tspan><tspan dy="5" style="font-size:13.9px">​</tspan> s<tspan dy="-5" style="font-size:8.4px">−1</tspan><tspan dy="5" style="font-size:13.9px">​</tspan> keV<tspan dy="-5" style="font-size:8.4px">−1</tspan><tspan dy="5" style="font-size:13.9px">​</tspan>)</tspan></text>
<text x="383.4" y="348.2" text-anchor="middle" style="font-size:23px">(b)</text>
<path d="M424.45 108.45H470.15000000000003" stroke="#000" stroke-width="0.9" stroke-linecap="round" fill="none"/>
<text x="473.6" y="113.15" style="fill:#000;letter-spacing:0.3px">TOTAL</text>
<path d="M424.45 129.95H470.15000000000003" stroke="#ff0000" stroke-width="0.9" stroke-linecap="round" fill="none" stroke-dasharray="7.2 7.45"/>
<text x="474.1" y="134.65" style="fill:#ff0000">MYTorusZ</text>
<path d="M424.45 151.1H469.65000000000003" stroke="#0000ff" stroke-width="0.9" stroke-linecap="round" fill="none" stroke-dasharray="5.7 4.6 0.5 4.6"/>
<text x="474.1" y="155.80" style="fill:#0000ff">MYTorusS</text>
<path d="M424.45 172.4H469.65000000000003" stroke="#ff00ff" stroke-width="0.9" stroke-linecap="round" fill="none" stroke-dasharray="0.5 4.63"/>
<text x="474.1" y="177.10" style="fill:#ff00ff">MYTorusL</text>
<path d="M424.45 193.45H469.65000000000003" stroke="#ff8000" stroke-width="0.9" stroke-linecap="round" fill="none" stroke-dasharray="5.7 4.65 0.5 4.65 0.5 4.65 0.5 4.65"/>
<text x="474.1" y="198.15" style="fill:#ff8000">Second PL</text>
</svg></body></html>
